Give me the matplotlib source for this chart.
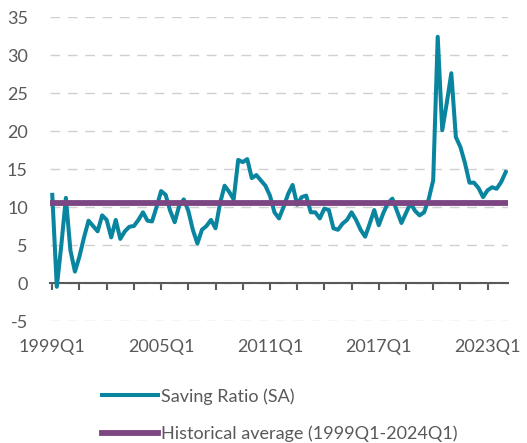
import matplotlib
matplotlib.use("Agg")
import matplotlib.pyplot as plt
import numpy as np

plt.rcParams['font.family'] = ['Lato', 'DejaVu Sans']
plt.rcParams['axes.unicode_minus'] = False

# quarterly saving ratio, 1999Q1 .. 2024Q1
saving_ratio = [
    11.6, -0.5, 5.0, 11.2, 4.3, 1.5, 3.5, 6.0, 8.2, 7.5,
    6.8, 8.9, 8.3, 6.0, 8.3, 5.8, 6.8, 7.4, 7.5, 8.3,
    9.3, 8.2, 8.1, 10.0, 12.1, 11.6, 9.5, 8.0, 10.2, 11.0,
    9.5, 7.0, 5.2, 7.0, 7.5, 8.3, 7.2, 10.5, 12.8, 12.0,
    11.0, 16.2, 15.9, 16.3, 13.8, 14.2, 13.5, 12.8, 11.5, 9.3,
    8.5, 10.0, 11.7, 12.9, 10.3, 11.3, 11.5, 9.3, 9.3, 8.5,
    9.8, 9.6, 7.2, 7.0, 7.8, 8.3, 9.3, 8.3, 7.0, 6.1,
    7.8, 9.6, 7.6, 9.2, 10.5, 11.1, 9.5, 7.9, 9.2, 10.5,
    9.5, 8.9, 9.3, 11.0, 13.5, 32.4, 20.1, 23.7, 27.6, 19.2,
    17.9, 15.8, 13.2, 13.2, 12.5, 11.3, 12.2, 12.6, 12.4, 13.3,
    14.6,
]
historical_average = 10.5
quarters = [f"{1999 + k // 4}Q{k % 4 + 1}" for k in range(len(saving_ratio))]

teal = "#0a859f"
purple = "#7b4681"
grey = "#595959"

fig = plt.figure(figsize=(5.27, 4.43), dpi=100)
ax = fig.add_axes([50 / 527, 1 - 321 / 443, 458 / 527, 304 / 443])

x = np.arange(len(saving_ratio))
ax.plot(x, saving_ratio, color=teal, lw=2.9, solid_joinstyle='round',
        label="Saving Ratio (SA)", zorder=3)
ax.plot(x, [historical_average] * len(x), color=purple, lw=4.2,
        label="Historical average (1999Q1-2024Q1)", zorder=4)

ax.set_xlim(-0.5, 100.5)
ax.set_ylim(-5, 35)
ax.set_yticks(range(-5, 36, 5))
ax.yaxis.grid(True, color="#d0d0d0", lw=1.0, dashes=(7, 5.5))
ax.set_axisbelow(True)
ax.tick_params(axis='y', length=0, pad=16, labelsize=13, labelcolor=grey)

for s in ['top', 'right', 'left']:
    ax.spines[s].set_visible(False)
ax.spines['bottom'].set_position(('data', 0))
ax.spines['bottom'].set_color(grey)
ax.spines['bottom'].set_linewidth(1.5)
ax.spines['bottom'].set_zorder(2)
ax.set_xticks(range(0, 101, 6))
ax.tick_params(axis='x', direction='out', length=5, width=1.5, color=grey,
               labelbottom=False)

sec = ax.secondary_xaxis(0)
sec.set_xticks(range(0, 101, 24))
sec.set_xticklabels([quarters[k] for k in range(0, 101, 24)])
sec.tick_params(length=0, pad=13, labelsize=13, labelcolor=grey)
sec.spines['bottom'].set_visible(False)

fig.legend(loc='upper left', bbox_to_anchor=(86 / 527, 1 - 372 / 443),
           frameon=False, fontsize=13, handlelength=3.1, handletextpad=0.15,
           labelspacing=1.15, labelcolor=grey)

fig.savefig("out.png", dpi=100)
